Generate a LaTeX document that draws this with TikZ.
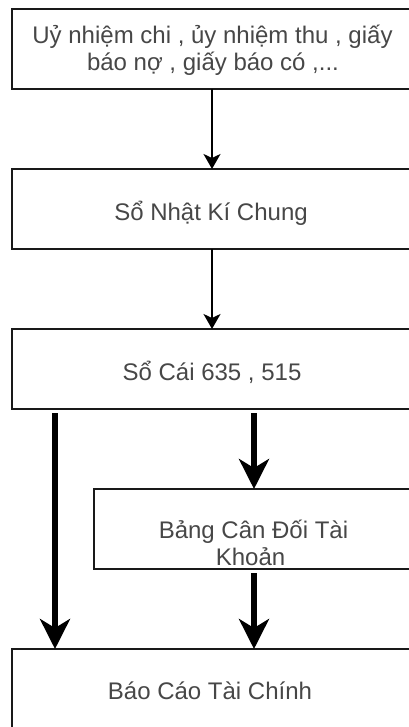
\documentclass[tikz,border=0pt]{standalone}
\usepackage{fontspec}
\setmainfont{Liberation Sans}
\usetikzlibrary{arrows.meta}
\begin{document}
\begin{tikzpicture}[x=1pt, y=-1pt,
  box/.style={draw=black!90, line width=1.6pt, fill=white,
    minimum width=400pt, minimum height=80pt, inner sep=0pt, outer sep=0pt},
  narrowbox/.style={box, minimum width=320pt},
  txt/.style={anchor=base, inner sep=0pt, text=black!72,
    font=\fontsize{24}{26}\selectfont},
  thinarrow/.style={draw=black, line width=2pt,
    -{Stealth[length=15pt, width=17pt, inset=4pt]}},
  fatarrow/.style={draw=black, line width=6pt, shorten <=4pt,
    -{Stealth[length=30pt, width=30pt, inset=9pt]}}]

  % page area
  \fill[white] (0,0) rectangle (408,727);
  \useasboundingbox (0,0) rectangle (408,727);

  % boxes
  \node[box] (src) at (212,49) {};
  \node[box] (nkc) at (212,209) {};
  \node[box] (cai) at (212,369) {};
  \node[narrowbox] (cdtk) at (254,529) {};
  \node[box] (bctc) at (212,689) {};

  % labels
  \node[txt] (src1) at (212.5,44) {Uỷ nhiệm chi , ủy nhiệm thu , giấy};
  \node[txt] (src2) at (213,70.5) {báo nợ , giấy báo có ,...};
  \node[txt] (nkct) at (211,220) {Sổ Nhật Kí Chung};
  \node[txt] (cait) at (212,380) {Sổ Cái 635 , 515};
  \node[txt] (cdtk1) at (253.5,538) {Bảng Cân Đối Tài};
  \node[txt] (cdtk2) at (250.5,565) {Khoản};
  \node[txt] (bctct) at (210,699) {Báo Cáo Tài Chính};

  % flow
  \draw[thinarrow] (src.south) -- (nkc.north);
  \draw[thinarrow] (nkc.south) -- (cai.north);
  \draw[fatarrow] ([xshift=43pt]cai.south west) -- ([xshift=43pt]bctc.north west);
  \draw[fatarrow] (cai.south -| cdtk.north) -- (cdtk.north);
  \draw[fatarrow] (cdtk.south) -- (bctc.north -| cdtk.south);
\end{tikzpicture}
\end{document}
